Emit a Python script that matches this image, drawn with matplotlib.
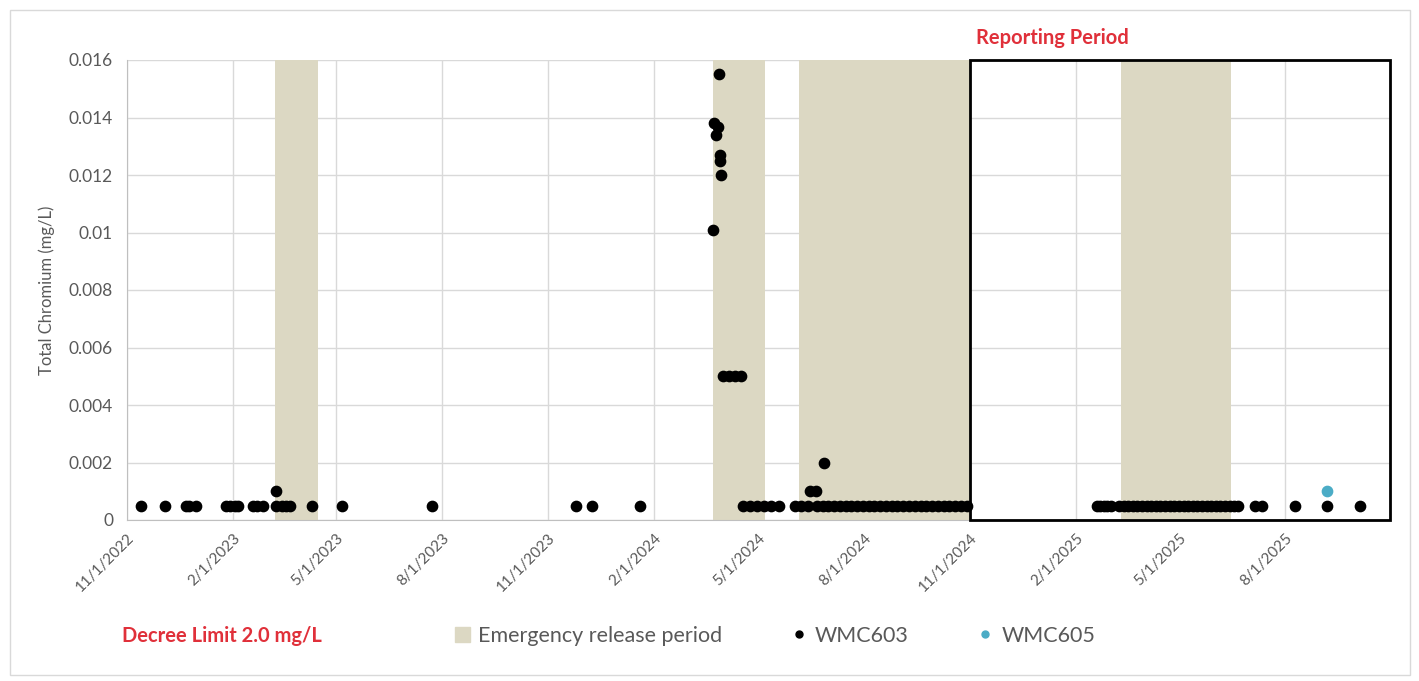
import pandas as pd
import numpy as np
import matplotlib
matplotlib.use('Agg')
import matplotlib.pyplot as plt
from matplotlib.patches import Rectangle, Patch
from matplotlib.lines import Line2D

plt.rcParams['font.family'] = ['Lato', 'DejaVu Sans']

# WMC603 samples (date, mg/L)
wmc603_dates = [
    '2022-11-13', '2022-12-04', '2022-12-22', '2022-12-25', '2022-12-31',
    '2023-01-26', '2023-01-29', '2023-02-03', '2023-02-05', '2023-02-18',
    '2023-02-22', '2023-02-27', '2023-03-10', '2023-03-10', '2023-03-15',
    '2023-03-19', '2023-03-22', '2023-04-10', '2023-05-06', '2023-07-23',
    '2023-11-25', '2023-12-09', '2024-01-20',
    '2024-03-23', '2024-03-24', '2024-03-26', '2024-03-27', '2024-03-28',
    '2024-03-29', '2024-03-29', '2024-03-30',
    '2024-04-01', '2024-04-06', '2024-04-11', '2024-04-16',
    '2024-04-18', '2024-04-24', '2024-04-30', '2024-05-06', '2024-05-12', '2024-05-19',
    '2024-06-02', '2024-06-07', '2024-06-13', '2024-06-15', '2024-06-20', '2024-06-27',
    '2024-06-21', '2024-06-26', '2024-07-01', '2024-07-06', '2024-07-11', '2024-07-16',
    '2024-07-21', '2024-07-26', '2024-07-31', '2024-08-05', '2024-08-10', '2024-08-15',
    '2024-08-20', '2024-08-25', '2024-08-30', '2024-09-04', '2024-09-09', '2024-09-14',
    '2024-09-19', '2024-09-24', '2024-09-29', '2024-10-04', '2024-10-09', '2024-10-14',
    '2024-10-19', '2024-10-24', '2024-10-29',
    '2025-02-19', '2025-02-22', '2025-02-25', '2025-02-28', '2025-03-03',
    '2025-03-10', '2025-03-14', '2025-03-18', '2025-03-22', '2025-03-26', '2025-03-30',
    '2025-04-03', '2025-04-07', '2025-04-11', '2025-04-15', '2025-04-19', '2025-04-23',
    '2025-04-27', '2025-05-01', '2025-05-05', '2025-05-09', '2025-05-13', '2025-05-17',
    '2025-05-21', '2025-05-25', '2025-05-29', '2025-06-02', '2025-06-06', '2025-06-10',
    '2025-06-14', '2025-06-18', '2025-06-21',
    '2025-07-06', '2025-07-12', '2025-08-10', '2025-09-06', '2025-10-05',
]
wmc603_values = (
    [0.0005] * 12 + [0.001] + [0.0005] * 10
    + [0.0101, 0.0138, 0.0134, 0.01368, 0.0155, 0.0127, 0.0125, 0.012]
    + [0.005] * 4
    + [0.0005] * 6
    + [0.0005, 0.0005, 0.0005, 0.001, 0.001, 0.002]
    + [0.0005] * 27
    + [0.0005] * 32
    + [0.0005] * 5
)

wmc605_dates = ['2025-09-06']
wmc605_values = [0.001]

# emergency release periods
release_start = ['2023-03-09', '2024-03-23', '2024-06-06', '2025-03-12']
release_end = ['2023-04-16', '2024-05-07', '2024-11-01', '2025-06-15']

report_start = '2024-11-01'
x_min = '2022-11-01'
x_max = '2025-10-31'

tick_dates = ['2022-11-01', '2023-02-01', '2023-05-01', '2023-08-01', '2023-11-01',
              '2024-02-01', '2024-05-01', '2024-08-01', '2024-11-01', '2025-02-01',
              '2025-05-01', '2025-08-01']
tick_labels = ['11/1/2022', '2/1/2023', '5/1/2023', '8/1/2023', '11/1/2023',
               '2/1/2024', '5/1/2024', '8/1/2024', '11/1/2024', '2/1/2025',
               '5/1/2025', '8/1/2025']
y_ticks = [0, 0.002, 0.004, 0.006, 0.008, 0.01, 0.012, 0.014, 0.016]
y_labels = ['0', '0.002', '0.004', '0.006', '0.008', '0.01', '0.012', '0.014', '0.016']

shade = '#dcd8c3'
red = '#e0303a'
cyan = '#4bacc6'
gray = '#595959'

fig = plt.figure(figsize=(14.19, 6.81), dpi=100)
ax = fig.add_axes([127 / 1419, 1 - 520 / 681, (1390 - 127) / 1419, (520 - 60) / 681])

for s, e in zip(release_start, release_end):
    ax.axvspan(pd.Timestamp(s), pd.Timestamp(e), color=shade, lw=0, zorder=1)

ax.scatter(pd.to_datetime(wmc603_dates), wmc603_values, s=55, color='black', zorder=4)
ax.scatter(pd.to_datetime(wmc605_dates), wmc605_values, s=55, color=cyan, zorder=5)

ax.set_xlim(pd.Timestamp(x_min), pd.Timestamp(x_max))
ax.set_ylim(0, 0.016)
ax.set_xticks(pd.to_datetime(tick_dates))
ax.set_xticklabels(tick_labels, rotation=45, ha='right', va='top', rotation_mode='anchor',
                   color=gray, fontsize=11)
ax.set_yticks(y_ticks)
ax.set_yticklabels(y_labels, color=gray, fontsize=12.5)
ax.tick_params(length=0, pad=10)
ax.tick_params(axis='x', pad=8)
ax.grid(True, color='#d9d9d9', lw=1, zorder=0)
ax.set_axisbelow(True)
for sp in ['top', 'right']:
    ax.spines[sp].set_visible(False)
for sp in ['left', 'bottom']:
    ax.spines[sp].set_color('#bfbfbf')
ax.set_ylabel('Total Chromium (mg/L)', color=gray, fontsize=12, labelpad=10)

# reporting period box
x0 = matplotlib.dates.date2num(pd.Timestamp(report_start))
x1 = matplotlib.dates.date2num(pd.Timestamp(x_max))
ax.add_patch(Rectangle((x0, 0), x1 - x0, 0.016, fill=False, edgecolor='black', lw=2,
                       zorder=6, clip_on=False))
fig.text(1052 / 1419, 1 - 38 / 681, 'Reporting Period', color=red, fontsize=14.5,
         fontweight='bold', ha='center', va='center')

# legend row
fig.text(122 / 1419, 1 - 636 / 681, 'Decree Limit 2.0 mg/L', color=red, fontsize=14.5,
         fontweight='bold', ha='left', va='center')
handles = [Patch(color=shade, label='Emergency release period'),
           Line2D([], [], ls='none', marker='o', color='black', markersize=5, label='WMC603'),
           Line2D([], [], ls='none', marker='o', color=cyan, markersize=5, label='WMC605')]
leg = fig.legend(handles=handles, loc='center', bbox_to_anchor=(775 / 1419, 1 - 636 / 681),
                 ncol=3, frameon=False, fontsize=15.5, columnspacing=3.2, handlelength=0.7,
                 handletextpad=0.4)
for t in leg.get_texts():
    t.set_color(gray)

# outer chart border
fig.add_artist(Rectangle((10 / 1419, 6 / 681), 1400 / 1419, 665 / 681, transform=fig.transFigure,
                         fill=False, edgecolor='#d9d9d9', lw=1))

fig.savefig('out.png', dpi=100)
